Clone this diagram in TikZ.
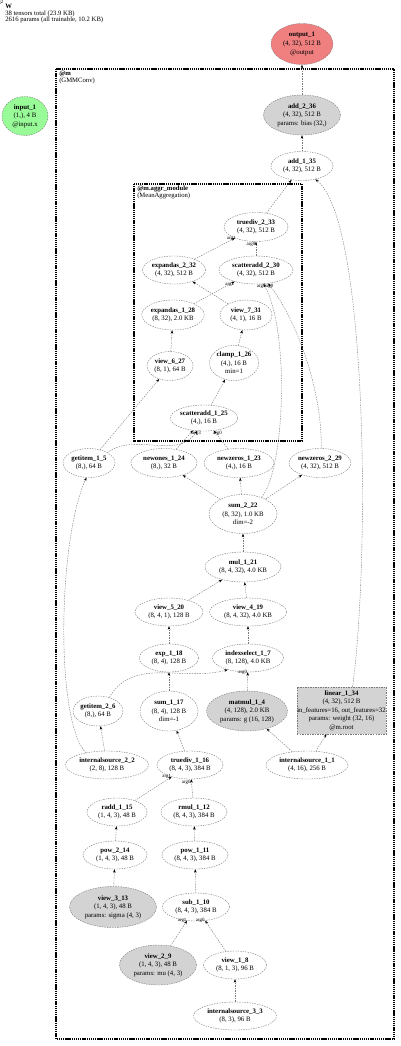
\documentclass[tikz,border=0pt]{standalone}
\usepackage{fontspec}
\setmainfont{Liberation Serif}
\usetikzlibrary{arrows.meta, shapes.geometric}
\definecolor{outred}{RGB}{240,128,128}
\definecolor{ingreen}{RGB}{152,251,152}
\definecolor{paramgray}{RGB}{211,211,211}
\definecolor{edgegray}{RGB}{120,120,120}

\begin{document}
\begin{tikzpicture}[
    x=0.75pt, y=-0.75pt,
    font=\fontsize{5.1}{6.4}\selectfont,
    op/.style={ellipse, draw=edgegray, dash pattern=on 1.1pt off 0.8pt, line width=0.3pt, inner sep=0pt, align=center},
    wh/.style 2 args={minimum width=#1*0.75pt, minimum height=#2*0.75pt},
    param/.style={op, fill=paramgray},
    layer/.style={rectangle, draw=edgegray, dash pattern=on 1.1pt off 0.8pt, line width=0.3pt, fill=paramgray, inner sep=0pt, align=center},
    arr/.style={draw=edgegray, line width=0.3pt, dash pattern=on 1.1pt off 0.8pt, -{Stealth[length=2.6pt, width=1.9pt, black]}},
    elab/.style={font=\fontsize{3.7}{4}\selectfont, inner sep=0.3pt},
    module/.style={draw=black, line width=1.3pt, dash pattern=on 1pt off 0.6pt},
    caption/.style={anchor=north west, align=left, inner sep=0pt, font=\fontsize{5}{5}\selectfont}
]
\useasboundingbox (0,0) rectangle (400,1046);

% header and modules
\node[caption] (title) at (5,4) {\textbf{W}\\38 tensors total (23.9 KB)\\2616 params (all trainable, 10.2 KB)};
\draw[module] (56,69) rectangle (394,1039);
\node[caption] (m_lab) at (59,71) {\textbf{@m}\\(GMMConv)};
\draw[module] (134,184) rectangle (302,441);
\node[caption] (aggr_lab) at (137,186) {\textbf{@m.aggr\_module}\\(MeanAggregation)};

% tensors
\node[op, fill=outred, wh={62}{41}] (output_1) at (302,44) {\textbf{output\_1}\\(4, 32), 512 B\\@output};
\node[op, fill=ingreen, wh={46}{39}] (input_1) at (25,116) {\textbf{input\_1}\\(1,), 4 B\\@input.x};
\node[param, wh={77}{40}] (add_2_36) at (302,115) {\textbf{add\_2\_36}\\(4, 32), 512 B\\params: bias (32,)};
\node[op, wh={62}{29}] (add_1_35) at (302,166) {\textbf{add\_1\_35}\\(4, 32), 512 B};
\node[op, wh={64}{29}] (truediv_2_33) at (256,227) {\textbf{truediv\_2\_33}\\(4, 32), 512 B};
\node[op, wh={63}{28}] (expandas_2_32) at (174,270) {\textbf{expandas\_2\_32}\\(4, 32), 512 B};
\node[op, wh={74}{28}] (scatteradd_2_30) at (256,270) {\textbf{scatteradd\_2\_30}\\(4, 32), 512 B};
\node[op, wh={62}{30}] (expandas_1_28) at (173,315) {\textbf{expandas\_1\_28}\\(8, 32), 2.0 KB};
\node[op, wh={52}{30}] (view_7_31) at (246,315) {\textbf{view\_7\_31}\\(4, 1), 16 B};
\node[op, wh={46}{29}] (view_6_27) at (170,366) {\textbf{view\_6\_27}\\(8, 1), 64 B};
\node[op, wh={46}{35}] (clamp_1_26) at (234,363) {\textbf{clamp\_1\_26}\\(4,), 16 B\\min=1};
\node[op, wh={66}{26}] (scatteradd_1_25) at (204,418) {\textbf{scatteradd\_1\_25}\\(4,), 16 B};
\node[op, wh={52}{29}] (getitem_1_5) at (89,463) {\textbf{getitem\_1\_5}\\(8,), 64 B};
\node[op, wh={66}{29}] (newones_1_24) at (164,463) {\textbf{newones\_1\_24}\\(8,), 32 B};
\node[op, wh={70}{29}] (newzeros_1_23) at (239,463) {\textbf{newzeros\_1\_23}\\(4,), 16 B};
\node[op, wh={60}{29}] (newzeros_2_29) at (320,463) {\textbf{newzeros\_2\_29}\\(4, 32), 512 B};
\node[op, wh={68}{39}] (sum_2_22) at (243,514) {\textbf{sum\_2\_22}\\(8, 32), 1.0 KB\\dim=-2};
\node[op, wh={76}{30}] (mul_1_21) at (243,567) {\textbf{mul\_1\_21}\\(8, 4, 32), 4.0 KB};
\node[op, wh={68}{28}] (view_5_20) at (169,612) {\textbf{view\_5\_20}\\(8, 4, 1), 128 B};
\node[op, wh={77}{28}] (view_4_19) at (248,612) {\textbf{view\_4\_19}\\(8, 4, 32), 4.0 KB};
\node[op, wh={59}{28}] (exp_1_18) at (169,658) {\textbf{exp\_1\_18}\\(8, 4), 128 B};
\node[op, wh={71}{28}] (indexselect_1_7) at (248,658) {\textbf{indexselect\_1\_7}\\(8, 128), 4.0 KB};
\node[op, wh={50}{30}] (getitem_2_6) at (98,711) {\textbf{getitem\_2\_6}\\(8,), 64 B};
\node[op, wh={58}{40}] (sum_1_17) at (169,711) {\textbf{sum\_1\_17}\\(8, 4), 128 B\\dim=-1};
\node[param, wh={81}{40}] (matmul_1_4) at (247,711) {\textbf{matmul\_1\_4}\\(4, 128), 2.0 KB\\params: g (16, 128)};
\node[layer, wh={89}{47}] (linear_1_34) at (341.5,710.5) {\textbf{linear\_1\_34}\\(4, 32), 512 B\\in\_features=16, out\_features=32\\params: weight (32, 16)\\@m.root};
\node[op, wh={83}{28}] (internalsource_2_2) at (107,765) {\textbf{internalsource\_2\_2}\\(2, 8), 128 B};
\node[op, wh={66}{28}] (truediv_1_16) at (190,765) {\textbf{truediv\_1\_16}\\(8, 4, 3), 384 B};
\node[op, wh={82}{28}] (internalsource_1_1) at (307,765) {\textbf{internalsource\_1\_1}\\(4, 16), 256 B};
\node[op, wh={60}{28}] (radd_1_15) at (117,812) {\textbf{radd\_1\_15}\\(1, 4, 3), 48 B};
\node[op, wh={66}{28}] (rmul_1_12) at (194,812) {\textbf{rmul\_1\_12}\\(8, 4, 3), 384 B};
\node[op, wh={64}{28}] (pow_2_14) at (115,855) {\textbf{pow\_2\_14}\\(1, 4, 3), 48 B};
\node[op, wh={66}{28}] (pow_1_11) at (195,855) {\textbf{pow\_1\_11}\\(8, 4, 3), 384 B};
\node[param, wh={87}{41}] (view_3_13) at (113,907) {\textbf{view\_3\_13}\\(1, 4, 3), 48 B\\params: sigma (4, 3)};
\node[op, wh={67}{28}] (sub_1_10) at (196,907) {\textbf{sub\_1\_10}\\(8, 4, 3), 384 B};
\node[param, wh={77}{40}] (view_2_9) at (158,965) {\textbf{view\_2\_9}\\(1, 4, 3), 48 B\\params: mu (4, 3)};
\node[op, wh={63}{28}] (view_1_8) at (235,965) {\textbf{view\_1\_8}\\(8, 1, 3), 96 B};
\node[op, wh={83}{28}] (internalsource_3_3) at (235,1016) {\textbf{internalsource\_3\_3}\\(8, 3), 96 B};

% data flow
\draw[arr] (add_2_36) -- (output_1);
\draw[arr] (add_1_35) -- (add_2_36);
\draw[arr] (truediv_2_33) -- (add_1_35);
\draw[arr] (linear_1_34.65) .. controls (370,560) and (368,220) .. (add_1_35.-45);
\draw[arr] (expandas_2_32) -- (truediv_2_33) node[elab, pos=1, anchor=east, xshift=1pt] (l_td2a) {arg1};
\draw[arr] (scatteradd_2_30) -- (truediv_2_33) node[elab, pos=1, anchor=north east] (l_td2b) {arg0};
\draw[arr] (view_7_31) -- (expandas_2_32);
\draw[arr] (expandas_1_28) -- (scatteradd_2_30) node[elab, pos=1, anchor=north east] (l_sa2a) {arg2};
\draw[arr] (sum_2_22.42) .. controls (285,470) and (290,330) .. (scatteradd_2_30.-62) node[elab, pos=1, anchor=north east, xshift=2pt] (l_sa2b) {arg3};
\draw[arr] (newzeros_2_29.85) .. controls (322,380) and (290,310) .. (scatteradd_2_30.-48) node[elab, pos=1, anchor=north west, xshift=-3pt] (l_sa2c) {arg0};
\draw[arr] (clamp_1_26) -- (view_7_31);
\draw[arr] (view_6_27) -- (expandas_1_28);
\draw[arr] (scatteradd_1_25) -- (clamp_1_26);
\draw[arr] (getitem_1_5) -- (view_6_27);
\draw[arr] (getitem_1_5.30) to[out=35, in=-125] (scatteradd_1_25.-118) node[elab, pos=1, anchor=north east, xshift=3pt] (l_sa1a) {arg2};
\draw[arr] (newones_1_24) -- (scatteradd_1_25) node[elab, pos=1, anchor=north west, xshift=-1pt] (l_sa1b) {arg3};
\draw[arr] (newzeros_1_23) -- (scatteradd_1_25) node[elab, pos=1, anchor=north west, xshift=-1pt] (l_sa1c) {arg0};
\draw[arr] (sum_2_22) -- (newones_1_24);
\draw[arr] (sum_2_22) -- (newzeros_1_23);
\draw[arr] (sum_2_22) -- (newzeros_2_29);
\draw[arr] (mul_1_21) -- (sum_2_22);
\draw[arr] (view_5_20) -- (mul_1_21);
\draw[arr] (view_4_19) -- (mul_1_21);
\draw[arr] (exp_1_18) -- (view_5_20);
\draw[arr] (indexselect_1_7) -- (view_4_19);
\draw[arr] (sum_1_17) -- (exp_1_18);
\draw[arr] (getitem_2_6.50) to[out=60, in=-165] (indexselect_1_7.-150) node[elab, pos=1, anchor=east] (l_is1) {arg2};
\draw[arr] (matmul_1_4) -- (indexselect_1_7) node[elab, pos=1, anchor=east] (l_is2) {arg0};
\draw[arr] (internalsource_2_2) -- (getitem_2_6);
\draw[arr] (internalsource_2_2.150) .. controls (55,720) and (58,540) .. (getitem_1_5.-100);
\draw[arr] (truediv_1_16) -- (sum_1_17);
\draw[arr] (internalsource_1_1) -- (matmul_1_4);
\draw[arr] (internalsource_1_1) -- (linear_1_34);
\draw[arr] (radd_1_15) -- (truediv_1_16) node[elab, pos=1, anchor=east] (l_td1a) {arg1};
\draw[arr] (rmul_1_12) -- (truediv_1_16) node[elab, pos=1, anchor=north east] (l_td1b) {arg0};
\draw[arr] (pow_2_14) -- (radd_1_15);
\draw[arr] (pow_1_11) -- (rmul_1_12);
\draw[arr] (view_3_13) -- (pow_2_14);
\draw[arr] (sub_1_10) -- (pow_1_11);
\draw[arr] (view_2_9) -- (sub_1_10) node[elab, pos=1, anchor=east] (l_sb1) {arg1};
\draw[arr] (view_1_8) -- (sub_1_10) node[elab, pos=1, anchor=east] (l_sb2) {arg0};
\draw[arr] (internalsource_3_3) -- (view_1_8);
\end{tikzpicture}
\end{document}
